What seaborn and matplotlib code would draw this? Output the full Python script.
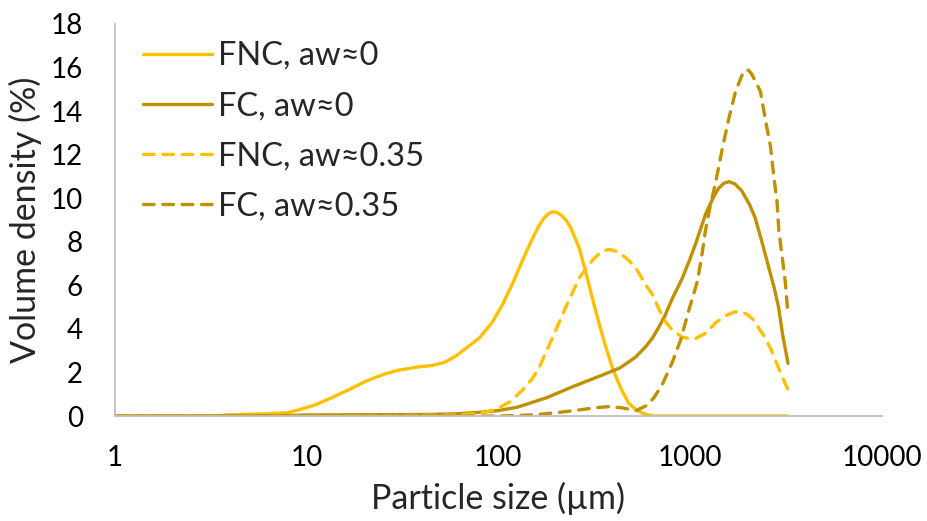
import numpy as np
import pandas as pd
import matplotlib
matplotlib.use("Agg")
import matplotlib.pyplot as plt
import seaborn as sns

# particle size (um) / volume density (%)
fnc0_x = [1, 2, 3, 3.5, 4, 6, 8, 9.2, 11, 13.6, 17, 20.4, 25, 30, 38, 45, 52, 60, 70, 80, 93,
          105, 119, 133, 150, 162, 172, 182, 192, 203, 215, 228, 240, 265, 290, 325, 360, 398,
          440, 480, 530, 590, 650, 1000, 2000, 3250]
fnc0_y = [0, 0, 0, 0.02, 0.06, 0.1, 0.15, 0.3, 0.5, 0.85, 1.25, 1.6, 1.9, 2.1, 2.25, 2.32, 2.45,
          2.75, 3.2, 3.6, 4.3, 5.1, 6.1, 7.1, 8.1, 8.7, 9.05, 9.28, 9.38, 9.34, 9.2, 8.95, 8.6,
          7.7, 6.4, 4.7, 3.3, 2.1, 1.2, 0.58, 0.25, 0.07, 0, 0, 0, 0]

fc0_x = [1, 3, 8, 10, 20, 40, 60, 80, 100, 125, 145, 180, 245, 320, 430, 520, 590, 640, 690,
         740, 810, 910, 1000, 1070, 1210, 1320, 1410, 1500, 1600, 1720, 1860, 2050, 2190, 2340,
         2460, 2570, 2750, 2900, 3050, 3250]
fc0_y = [0, 0, 0.02, 0.05, 0.06, 0.07, 0.1, 0.17, 0.25, 0.4, 0.58, 0.85, 1.35, 1.75, 2.2, 2.7,
         3.2, 3.6, 4.1, 4.6, 5.4, 6.3, 7.2, 7.9, 9.3, 10.0, 10.45, 10.68, 10.76, 10.65, 10.35,
         9.7, 9.1, 8.2, 7.5, 6.86, 5.9, 5.0, 3.7, 2.42]

fnc35_x = [1, 10, 30, 60, 80, 97, 115, 134, 150, 164, 192, 225, 265, 310, 345, 378, 420, 480,
           530, 590, 635, 690, 750, 810, 910, 1050, 1210, 1350, 1470, 1600, 1720, 1870, 2000,
           2150, 2300, 2470, 2650, 2790, 3000, 3250]
fnc35_y = [0, 0, 0.02, 0.05, 0.12, 0.3, 0.65, 1.2, 1.7, 2.25, 3.6, 5.0, 6.35, 7.15, 7.55, 7.65,
           7.55, 7.15, 6.7, 6.0, 5.6, 4.9, 4.3, 3.95, 3.62, 3.52, 3.8, 4.25, 4.5, 4.68, 4.78, 4.78,
           4.65, 4.4, 4.0, 3.6, 3.05, 2.57, 1.9, 1.2]

fc35_x = [1, 100, 150, 200, 265, 320, 378, 440, 525, 600, 650, 715, 806, 895, 988, 1095, 1155,
          1204, 1280, 1360, 1470, 1590, 1730, 1860, 1920, 1963, 2020, 2100, 2200, 2333, 2476,
          2630, 2740, 2850, 2910, 3030, 3150, 3250]
fc35_y = [0, 0, 0.05, 0.15, 0.28, 0.38, 0.43, 0.38, 0.25, 0.5, 0.85, 1.42, 2.43, 3.5, 4.87, 6.2,
          7.4, 8.5, 9.7, 10.7, 12.2, 13.6, 14.9, 15.6, 15.82, 15.9, 15.88, 15.7, 15.35, 14.9,
          13.6, 12.4, 11.0, 9.8, 8.5, 7.3, 6.1, 4.6]

labels = ["FNC, aw≈0", "FC, aw≈0", "FNC, aw≈0.35", "FC, aw≈0.35"]
xs = [fnc0_x, fc0_x, fnc35_x, fc35_x]
ys = [fnc0_y, fc0_y, fnc35_y, fc35_y]
colors = ["#FFC000", "#BF9000", "#FFC000", "#BF9000"]
dashed = [False, False, True, True]

sns.set_style("white")
plt.rcParams['font.family'] = ['Lato', 'DejaVu Sans']

fig = plt.figure(figsize=(9.27, 5.21), dpi=100)
ax = fig.add_axes([0.124, 0.2015, 0.827, 0.7525])

for lab, x, y, c, d in zip(labels, xs, ys, colors, dashed):
    df = pd.DataFrame({'size': x, 'vol': y})
    sns.lineplot(data=df, x='size', y='vol', ax=ax, color=c, lw=2.4, label=lab, sort=False)
    l = ax.lines[-1]
    l.set_solid_capstyle('round')
    l.set_solid_joinstyle('round')
    l.set_dash_capstyle('round')
    if d:
        l.set_dashes([3.2, 2.6])

ax.set_xscale('log')
ax.set_xlim(1, 10000)
ax.set_ylim(0, 18)
ax.set_xticks([1, 10, 100, 1000, 10000])
ax.set_xticklabels(['1', '10', '100', '1000', '10000'])
ax.xaxis.set_minor_locator(matplotlib.ticker.NullLocator())
ax.set_yticks(np.arange(0, 19, 2))
ax.tick_params(axis='both', length=0, labelsize=20, colors='black')
ax.tick_params(axis='x', pad=21)
ax.tick_params(axis='y', pad=23)

for s in ['top', 'right']:
    ax.spines[s].set_visible(False)
for s in ['left', 'bottom']:
    ax.spines[s].set_color('#BFBFBF')
    ax.spines[s].set_linewidth(1.3)

ax.set_xlabel('Particle size (µm)', fontsize=24.5, labelpad=8)
ax.set_ylabel('Volume density (%)', fontsize=24.5, labelpad=6)

leg = ax.legend(loc='upper left', frameon=False, fontsize=23.5, handlelength=2.1,
                handletextpad=0.2, labelspacing=0.62, borderaxespad=0.0,
                bbox_to_anchor=(0.02, 0.99))
for h in leg.get_lines():
    h.set_linewidth(2.4)

fig.savefig('out.png', dpi=100)
